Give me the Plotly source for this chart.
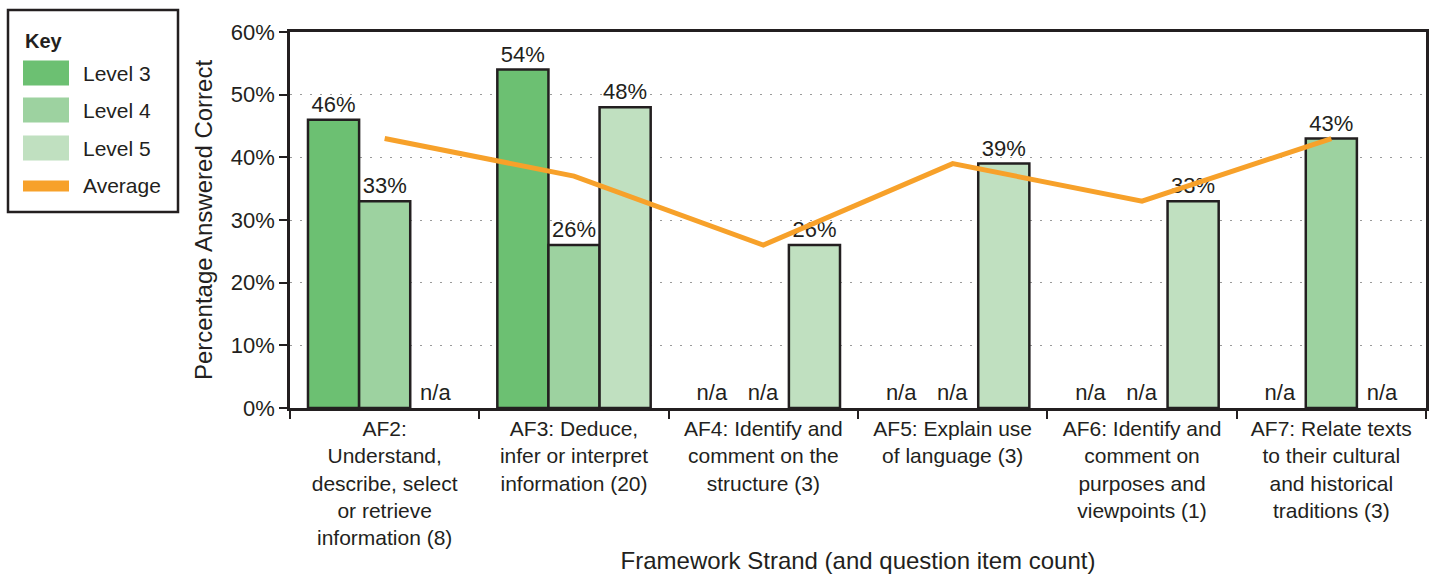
import plotly.graph_objects as go

categories = [
    "AF2:<br>Understand,<br>describe, select<br>or retrieve<br>information (8)",
    "AF3: Deduce,<br>infer or interpret<br>information (20)",
    "AF4: Identify and<br>comment on the<br>structure (3)",
    "AF5: Explain use<br>of language (3)",
    "AF6: Identify and<br>comment on<br>purposes and<br>viewpoints (1)",
    "AF7: Relate texts<br>to their cultural<br>and historical<br>traditions (3)",
]
level3 = [46, 54, None, None, None, None]
level4 = [33, 26, None, None, None, 43]
level5 = [None, 48, 26, 39, 33, None]
average = [43, 37, 26, 39, 33, 43]

series_names = ["Level 3", "Level 4", "Level 5"]
avg_name = "Average"
series_colors = ["#6cc072", "#9dd2a0", "#c0e0c0"]
avg_color = "#f7a12a"
ink = "#231f20"
FONT = "Liberation Sans, Arial, sans-serif"

W, H = 1436, 574
ML, MR, MT, MB = 290, 10, 32, 166
PW, PH = W - ML - MR, H - MT - MB


def px(x):
    return (x - ML) / PW


def py(y):
    return (H - MB - y) / PH


fig = go.Figure()
for name, vals, col in zip(series_names, [level3, level4, level5], series_colors):
    fig.add_trace(go.Bar(
        name=name,
        x=categories,
        y=[v if v is not None else 0 for v in vals],
        text=[f"{v}%" if v is not None else "n/a" for v in vals],
        textposition="outside",
        cliponaxis=False,
        textfont=dict(size=22, color=ink, family=FONT),
        marker=dict(color=col, line=dict(color=ink, width=[2.5 if v is not None else 0 for v in vals])),
        showlegend=False,
    ))

fig.add_trace(go.Scatter(
    name=avg_name,
    x=categories,
    y=average,
    mode="lines",
    line=dict(color=avg_color, width=5),
    showlegend=False,
))

# --- Key (legend) drawn as a boxed panel to the left of the plot ---
shapes = [dict(type="rect", xref="paper", yref="paper",
               x0=px(8), x1=px(178), y0=py(212), y1=py(10),
               line=dict(color=ink, width=2.5), fillcolor="white", layer="above")]
annotations = [dict(text="<b>Key</b>", xref="paper", yref="paper", x=px(23), y=py(41),
                    xanchor="left", yanchor="middle", showarrow=False,
                    font=dict(size=20, family=FONT, color=ink))]
key_rows = [(n, c, 25) for n, c in zip(series_names, series_colors)] + [(avg_name, avg_color, 11)]
row_centers = [73, 110, 148, 186]
for (name, col, hgt), yc in zip(key_rows, row_centers):
    shapes.append(dict(type="rect", xref="paper", yref="paper",
                       x0=px(23), x1=px(69), y0=py(yc + hgt / 2), y1=py(yc - hgt / 2),
                       line=dict(width=0), fillcolor=col, layer="above"))
    annotations.append(dict(text=name, xref="paper", yref="paper", x=px(81), y=py(yc),
                            xanchor="left", yanchor="middle", showarrow=False,
                            font=dict(size=21, family=FONT, color=ink)))

fig.update_layout(
    width=W, height=H,
    paper_bgcolor="white", plot_bgcolor="white",
    font=dict(family=FONT, color=ink, size=21),
    barmode="group",
    bargap=0.19,
    bargroupgap=0,
    margin=dict(l=ML, r=MR, t=MT, b=MB, autoexpand=False),
    showlegend=False,
    shapes=shapes,
    annotations=annotations,
    xaxis=dict(
        showline=True, linecolor=ink, linewidth=2.5, mirror=True,
        ticks="outside", ticklen=8, tickcolor=ink, tickwidth=1.5,
        tickson="boundaries",
        tickfont=dict(size=21, family=FONT, color=ink),
        title=dict(text="Framework Strand (and question item count)",
                   font=dict(size=24, family=FONT, color=ink), standoff=14),
        automargin=False,
    ),
    yaxis=dict(
        range=[0, 60], dtick=10, ticksuffix="%",
        showline=True, linecolor=ink, linewidth=2.5, mirror=True,
        ticks="outside", ticklen=8, tickcolor=ink, tickwidth=2,
        showgrid=True, gridcolor="#9a9a9a", gridwidth=1, griddash="2px,8px",
        zeroline=False,
        tickfont=dict(size=22, family=FONT, color=ink),
        title=dict(text="Percentage Answered Correct",
                   font=dict(size=24, family=FONT, color=ink), standoff=12),
        automargin=False,
    ),
)

fig.write_html("out.html", config={"displayModeBar": False},
               post_script="document.body.style.margin='0';")
